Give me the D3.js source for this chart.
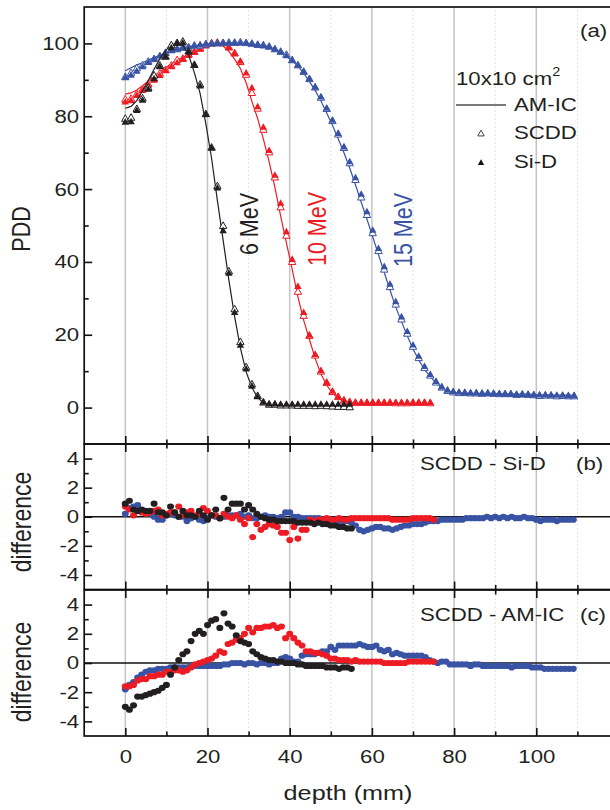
<!DOCTYPE html>
<html>
<head>
<meta charset="utf-8">
<script src="https://cdn.jsdelivr.net/npm/d3@7"></script>
<style>
  body { margin: 0; background: #fff; }
  svg { display: block; font-family: "Liberation Sans", Arial, sans-serif; }
</style>
</head>
<body>
<svg id="chart" width="610" height="810"></svg>
<script>
// ---- depth samples (mm) ----
const depthPDD = [0,1.4,2.8,4.2,5.6,7,8.4,9.8,11.2,12.6,14,15.4,16.8,18.2,19.6,21,22.4,23.8,25.2,26.6,
  28,29.4,30.8,32.2,33.6,35,36.4,37.8,39.2,40.6,42,43.4,44.8,46.2,47.6,49,50.4,51.8,53.2,54.6,
  56,57.4,58.8,60.2,61.6,63,64.4,65.8,67.2,68.6,70,71.4,72.8,74.2,75.6,77,78.4,79.8,81.2,82.6,
  84,85.4,86.8,88.2,89.6,91,92.4,93.8,95.2,96.6,98,99.4,100.8,102.2,103.6,105,106.4,107.8,109.2];
const depthDiff = [0,1,2,3,4,5,6,7,8,9,10,11,12,13,14,15,16,17,18,19,20,21,22,23,24,25,26,27,28,29,
  30,31,32,33,34,35,36,37,38,39,40,41,42,43,44,45,46,47,48,49,50,51,52,53,54,55,56,57,58,59,
  60,61,62,63,64,65,66,67,68,69,70,71,72,73,74,75,76,77,78,79,80,81,82,83,84,85,86,87,88,89,
  90,91,92,93,94,95,96,97,98,99,100,101,102,103,104,105,106,107,108,109];

// ---- PDD, 6 MeV ----
const pdd6SiD  = [78.3,78.4,81.5,84.3,87.3,90.2,93.5,96.2,98.7,100,100,97.6,94.0,88.2,80.4,71.2,60.2,48.5,36.8,26.0,
  17.0,10.5,5.8,2.9,1.4,0.9,0.9,0.8,0.8,0.8,0.8,0.8,0.8,0.8,0.8,0.8,0.8,0.8,0.8,0.8];
const pdd6SCDD = [79.2,79.5,81.9,84.8,87.7,91.1,93.8,96.3,99.4,100,100.4,97.7,94.0,88.6,80.5,71.3,60.7,49.8,37.3,26.9,
  17.9,11.0,6.3,3.1,1.3,0.7,0.7,0.5,0.5,0.5,0.4,0.4,0.4,0.3,0.4,0.3,0.2,0.1,0.1,0.0];
const pdd6AMIC = [82.2,82.7,84.3,87.0,89.9,92.9,95.8,98.0,99.6,100.0,99.6,96.9,92.0,86.3,77.9,68.4,56.9,46.0,35.0,25.0,
  16.4,9.8,5.5,2.8,1.2,0.6,0.5,0.5,0.5,0.5,0.5,0.5,0.5,0.5,0.5,0.5,0.5,0.4,0.4,0.4];

// ---- PDD, 10 MeV ----
const pdd10SiD  = [83.8,84.2,85.6,87.0,88.4,89.8,91.1,92.4,93.5,94.6,95.6,96.6,97.5,98.3,99.2,99.8,100,99.8,98.8,97.1,
  95.0,91.8,87.7,82.5,76.9,70.5,63.7,56.0,48.2,40.6,33.2,26.0,19.8,14.5,10.0,6.8,4.4,2.9,2.0,1.5,
  1.3,1.3,1.3,1.3,1.3,1.3,1.3,1.3,1.3,1.3,1.3,1.3,1.3,1.3];
const pdd10SCDD = [84.5,84.7,86.0,87.3,88.7,90.2,91.6,92.6,93.8,95.3,95.7,96.9,97.6,98.5,99.6,99.9,100.1,100.0,98.8,97.2,
  94.8,91.3,86.3,82.0,76.2,70.0,63.1,54.9,47.1,39.9,31.7,25.1,19.6,14.2,9.8,6.7,4.2,2.8,1.8,1.4,
  1.2,1.2,1.2,1.2,1.2,1.2,1.2,1.1,1.1,1.1,1.2,1.2,1.2,1.1];
const pdd10AMIC = [86.1,86.4,87.2,88.4,89.7,91.0,92.2,93.3,94.4,95.4,96.2,97.0,97.7,98.4,99.1,99.5,99.6,99.3,97.8,95.7,
  93.1,89.2,84.1,79.4,73.7,67.5,60.5,52.6,45.2,38.0,30.4,24.0,18.7,13.5,9.2,6.2,3.9,2.6,1.6,1.3,
  1.1,1.1,1.1,1.1,1.1,1.1,1.1,1.1,1.1,1.1,1.1,1.1,1.1,1.1];

// ---- PDD, 15 MeV ----
const pdd15SiD  = [90.5,91.2,92.3,93.5,94.7,95.6,96.5,97.2,97.9,98.3,98.7,99.0,99.3,99.5,99.7,99.8,99.9,100,100,100,
  100,100,99.9,99.6,99.3,99.0,98.3,97.6,96.5,95.3,93.9,92.2,90.2,87.9,85.2,82.1,78.8,75.2,71.5,67.4,
  63.0,58.5,53.7,48.6,43.6,38.6,33.8,29.0,24.8,20.8,17.1,14.0,11.2,9.0,7.1,5.6,4.7,4.3,4.1,4.0,
  3.9,3.9,3.8,3.8,3.7,3.7,3.6,3.6,3.5,3.5,3.5,3.4,3.4,3.4,3.3,3.3,3.3,3.2,3.2];
const pdd15SCDD = [90.7,91.8,93.1,93.9,94.9,95.6,96.3,97.3,98.1,98.3,98.7,98.7,99.3,99.3,99.6,99.9,99.9,100,100.1,100.1,
  100.2,100,99.8,99.5,99.4,99.0,98.3,97.6,96.8,95.3,93.9,92.1,90.1,87.8,85.0,81.9,78.6,74.9,71.2,67.0,
  62.4,57.6,52.8,47.8,42.9,37.8,33.0,28.2,24.1,20.2,16.6,13.5,10.8,8.7,6.8,5.4,4.5,4.1,3.9,3.9,
  3.8,3.8,3.7,3.8,3.7,3.6,3.6,3.6,3.4,3.5,3.4,3.3,3.1,3.2,3.2,3.0,3.1,3.0,3.0];
const pdd15AMIC = [92.5,93.3,94.1,94.7,95.4,96.1,96.7,97.5,98.2,98.6,98.9,99.1,99.4,99.6,99.8,100.0,100.1,100.1,100.2,100.1,
  100.2,100.1,99.8,99.6,99.4,99.1,98.3,97.6,96.5,95.2,93.8,91.8,89.5,87.1,84.2,80.9,77.5,73.8,70.0,65.8,
  61.2,56.4,51.7,46.9,42.0,37.1,32.3,27.6,23.6,19.7,16.1,13.1,10.4,8.5,6.7,5.3,4.5,4.2,4.0,4.0,
  3.9,3.9,3.9,3.9,3.9,3.8,3.8,3.8,3.7,3.7,3.7,3.6,3.5,3.5,3.5,3.4,3.4,3.4,3.4];

// ---- SCDD - Si-D ----
const diffB6  = [0.9,1.1,0.5,0.4,0.5,0.4,0.4,0.9,0.3,0.3,0.1,0.7,0.3,0.0,0.4,0.1,0.1,0.0,0.4,0.1,
  -0.2,0.1,0.5,-0.1,1.3,0.5,0.9,0.9,0.9,0.5,0.8,0.5,0.2,0.0,-0.1,-0.2,-0.2,-0.3,-0.3,-0.3,
  -0.3,-0.3,-0.4,-0.4,-0.4,-0.4,-0.5,-0.4,-0.5,-0.5,-0.6,-0.6,-0.7,-0.7,-0.8,-0.8];
const diffB10 = [0.7,0.5,0.1,0.4,0.3,0.2,0.3,0.4,0.5,0.1,0.2,0.3,0.3,0.7,0.1,0.3,0.4,0.1,0.2,0.6,
  0.4,0.1,0.1,-0.1,0.2,0.0,-0.1,0.1,-0.2,-0.5,-0.1,-1.4,-0.5,-0.9,-0.7,-0.5,-0.6,-0.7,-1.1,-1.1,
  -1.6,-0.7,-1.5,-0.9,-0.9,-0.2,-0.3,-0.2,-0.2,-0.1,-0.2,-0.2,-0.1,-0.2,-0.2,-0.1,-0.1,-0.1,-0.1,-0.1,
  -0.1,-0.1,-0.1,-0.1,-0.1,-0.2,-0.2,-0.2,-0.2,-0.2,-0.1,-0.1,-0.1,-0.1,-0.1,-0.2];
const diffB15 = [0.2,0.6,0.7,0.8,0.4,0.3,0.2,0.0,-0.2,-0.2,0.1,0.2,0.1,0.0,0.0,-0.3,-0.1,0.0,-0.2,-0.3,
  -0.1,0.1,0.0,-0.1,0.0,0.1,0.1,0.1,0.2,0.0,0.1,-0.1,-0.1,0.0,0.1,0.0,0.0,-0.1,0.0,0.3,
  0.3,0.0,0.0,-0.1,-0.1,-0.1,-0.1,-0.1,-0.2,-0.2,-0.2,-0.3,-0.3,-0.3,-0.3,-0.4,-0.6,-0.9,-1.0,-0.9,
  -0.8,-0.7,-0.7,-0.8,-0.8,-0.9,-0.8,-0.7,-0.6,-0.6,-0.5,-0.5,-0.5,-0.4,-0.3,-0.3,-0.3,-0.2,-0.2,-0.2,
  -0.2,-0.2,-0.2,-0.1,-0.1,-0.1,-0.1,-0.1,0.0,-0.1,0.0,-0.1,0.0,-0.1,0.0,-0.1,-0.1,0.0,-0.1,-0.1,
  -0.2,-0.3,-0.2,-0.2,-0.2,-0.3,-0.2,-0.2,-0.2,-0.2];

// ---- SCDD - AM-IC ----
const diffC6  = [-3.0,-3.2,-2.9,-2.3,-2.3,-2.2,-2.1,-2.0,-1.9,-1.7,-1.5,-0.8,-0.3,0.2,0.6,0.8,1.5,2.0,2.2,2.0,
  2.6,2.9,3.0,2.4,3.4,2.7,2.5,1.9,1.5,1.4,1.3,0.8,0.6,0.4,0.3,0.2,0.2,0.1,0.1,0.0,
  0.0,0.0,-0.1,-0.1,-0.2,-0.2,-0.2,-0.2,-0.2,-0.3,-0.3,-0.3,-0.4,-0.3,-0.3,-0.4];
const diffC10 = [-1.6,-1.6,-1.5,-1.2,-1.1,-1.1,-0.9,-0.9,-0.8,-0.8,-0.6,-0.6,-0.5,-0.5,-0.6,-0.5,-0.3,-0.1,0.0,0.1,
  0.2,0.3,0.5,0.8,0.7,1.3,1.4,1.6,1.7,2.0,2.4,2.1,2.4,2.4,2.5,2.5,2.6,2.4,2.5,1.7,
  2.0,1.7,1.4,1.2,0.8,0.8,0.7,0.7,0.6,0.5,0.3,0.3,0.2,0.2,0.2,0.1,0.2,0.1,0.1,0.1,
  0.1,0.1,0.1,0.0,0.0,0.0,0.0,0.0,0.0,0.1,0.1,0.1,0.1,0.1,0.1,0.1];
const diffC15 = [-1.8,-1.5,-1.3,-1.0,-0.8,-0.6,-0.5,-0.5,-0.4,-0.4,-0.4,-0.3,-0.3,-0.3,-0.3,-0.3,-0.2,-0.2,-0.2,-0.2,
  -0.2,-0.2,-0.2,-0.2,-0.1,-0.1,0.0,0.0,0.0,-0.1,0.0,0.0,-0.1,0.0,0.0,-0.1,0.0,0.0,0.3,0.4,
  0.3,0.1,0.1,0.5,0.6,0.6,0.6,0.7,0.8,0.8,1.1,0.9,1.2,1.2,1.2,1.2,1.2,1.3,1.2,1.1,
  1.1,1.2,0.9,0.8,0.9,0.6,0.7,0.6,0.5,0.5,0.5,0.5,0.5,0.4,0.2,0.1,0.0,0.1,0.1,-0.1,
  -0.1,-0.1,-0.1,-0.1,-0.2,-0.1,-0.1,-0.2,-0.2,-0.2,-0.2,-0.2,-0.2,-0.2,-0.3,-0.2,-0.2,-0.2,-0.2,-0.3,
  -0.3,-0.3,-0.4,-0.4,-0.4,-0.4,-0.4,-0.4,-0.4,-0.4];

// ---- axis ticks and labels ----
const xMajor = [0, 20, 40, 60, 80, 100];
const xMinor = [10, 30, 50, 70, 90, 110];
const pddMajor = [0, 20, 40, 60, 80, 100];
const pddMinor = [10, 30, 50, 70, 90];
const diffMajor = [-4, -2, 0, 2, 4];
const diffMinor = [-3, -1, 1, 3];
const energyLabels = ["6 MeV", "10 MeV", "15 MeV"];

// ---- drawing ----
const COL = { k: "#231f20", r: "#ed1c24", b: "#3953a4" };
const TXT = "#231f20";
const SX = 1.2;   // horizontal stretch of the lettering
const svg = d3.select("#chart");

const x = d3.scaleLinear().domain([-10, 120]).range([84.2, 618.5]);
const yA = d3.scaleLinear().domain([-10, 110]).range([444, 7]);
const yB = d3.scaleLinear().domain([-5, 5]).range([589.5, 444]);
const yC = d3.scaleLinear().domain([-5, 5]).range([736, 590]);

function label(px, py, str, o = {}) {
  const g = svg.append("g").attr("transform", `translate(${px},${py}) scale(${SX},1)`);
  const t = g.append("text")
    .attr("font-size", o.size || 18.5)
    .attr("text-anchor", o.anchor || "middle")
    .attr("dominant-baseline", "central")
    .attr("fill", o.fill || TXT)
    .text(str);
  if (o.rotate) t.attr("transform", `rotate(${o.rotate})`);
  return t;
}

// vertical grid in every panel
[[yA, 444, 7], [yB, 589.5, 444], [yC, 736, 590]].forEach(([ys, b, t]) => {
  svg.append("g").selectAll("line").data(xMajor).join("line")
    .attr("x1", d => x(d)).attr("x2", d => x(d)).attr("y1", b).attr("y2", t)
    .attr("stroke", "#c4c4c4").attr("stroke-width", 1.5);
  svg.append("g").selectAll("line").data(xMinor).join("line")
    .attr("x1", d => x(d)).attr("x2", d => x(d)).attr("y1", b).attr("y2", t)
    .attr("stroke", "#d6d6d6").attr("stroke-width", 1).attr("stroke-dasharray", "1.5,2.5");
});

// zero lines of the difference panels
[yB, yC].forEach(ys => {
  svg.append("line").attr("x1", x(-10)).attr("x2", 610).attr("y1", ys(0)).attr("y2", ys(0))
    .attr("stroke", "#111").attr("stroke-width", 1.6);
});

// triangle marker
function tri(w, h) {
  return `M0,${-h * 2 / 3}L${w / 2},${h / 3}L${-w / 2},${h / 3}Z`;
}
const triPath = tri(7.4, 6.6);

function pairs(depths, vals) { return vals.map((v, i) => [depths[i], v]); }

const pddSeries = [
  { c: COL.r, amic: pdd10AMIC, scdd: pdd10SCDD, sid: pdd10SiD },
  { c: COL.b, amic: pdd15AMIC, scdd: pdd15SCDD, sid: pdd15SiD },
  { c: COL.k, amic: pdd6AMIC, scdd: pdd6SCDD, sid: pdd6SiD }
];
const line = d3.line().x(d => x(d[0])).y(d => yA(d[1]));
pddSeries.forEach(s => {
  svg.append("path").datum(pairs(depthPDD, s.amic)).attr("d", line)
    .attr("fill", "none").attr("stroke", s.c).attr("stroke-width", 1.2);
  svg.append("g").selectAll("path").data(pairs(depthPDD, s.scdd)).join("path")
    .attr("d", triPath).attr("transform", d => `translate(${x(d[0])},${yA(d[1])})`)
    .attr("fill", "#fff").attr("stroke", s.c).attr("stroke-width", 1);
  svg.append("g").selectAll("path").data(pairs(depthPDD, s.sid)).join("path")
    .attr("d", triPath).attr("transform", d => `translate(${x(d[0])},${yA(d[1])})`)
    .attr("fill", s.c);
});

// difference dots
function dots(ys, vals, c) {
  svg.append("g").selectAll("ellipse").data(pairs(depthDiff, vals)).join("ellipse")
    .attr("cx", d => x(d[0])).attr("cy", d => ys(d[1]))
    .attr("rx", 3.5).attr("ry", 3.1).attr("fill", c);
}
dots(yB, diffB15, COL.b); dots(yB, diffB10, COL.r); dots(yB, diffB6, COL.k);
dots(yC, diffC15, COL.b); dots(yC, diffC10, COL.r); dots(yC, diffC6, COL.k);

// frames
[[444, 7], [589.5, 444], [736, 590]].forEach(([b, t]) => {
  svg.append("rect").attr("x", x(-10)).attr("y", t).attr("width", x(120) - x(-10)).attr("height", b - t)
    .attr("fill", "none").attr("stroke", "#111").attr("stroke-width", 1.7);
});

// axes
function styleAxis(g) {
  g.selectAll("path.domain").remove();
  g.selectAll("line").attr("stroke", "#111").attr("stroke-width", 1.6);
}
function yAxis(ys, major, minor) {
  const gM = svg.append("g").attr("transform", `translate(${x(-10)},0)`)
    .call(d3.axisLeft(ys).tickValues(major).tickSizeInner(-8).tickSizeOuter(0).tickPadding(5)
      .tickFormat(d => String(d)));
  styleAxis(gM);
  gM.selectAll("text").attr("font-size", 18.5).attr("fill", TXT).attr("font-family", null)
    .attr("x", -5 / SX).attr("transform", `scale(${SX},1)`);
  const gm = svg.append("g").attr("transform", `translate(${x(-10)},0)`)
    .call(d3.axisLeft(ys).tickValues(minor).tickSizeInner(-4.5).tickSizeOuter(0).tickFormat(""));
  styleAxis(gm);
}
yAxis(yA, pddMajor, pddMinor);
yAxis(yB, diffMajor, diffMinor);
yAxis(yC, diffMajor, diffMinor);

function xAxis(yPos, up, withLabels) {
  const mk = up ? d3.axisBottom : d3.axisTop;
  const gM = svg.append("g").attr("transform", `translate(0,${yPos})`)
    .call(mk(x).tickValues(xMajor).tickSizeInner(-8).tickSizeOuter(0).tickPadding(12)
      .tickFormat(withLabels ? (d => String(d)) : ""));
  styleAxis(gM);
  if (withLabels) {
    gM.selectAll("text").attr("font-size", 18.5).attr("fill", TXT).attr("font-family", null)
      .attr("transform", `scale(${SX},1)`).attr("dy", "0.71em").attr("y", 14);
  }
  const gm = svg.append("g").attr("transform", `translate(0,${yPos})`)
    .call(mk(x).tickValues(xMinor).tickSizeInner(-4.5).tickSizeOuter(0).tickFormat(""));
  styleAxis(gm);
}
xAxis(444, true, false);
xAxis(444, false, false);
xAxis(589.5, true, false);
xAxis(590, false, false);
xAxis(736, true, true);

// axis titles
label(21, 229, "PDD", { size: 21.5, rotate: -90 });
label(21.5, 522, "difference", { size: 23, rotate: -90 });
label(21.5, 672, "difference", { size: 23, rotate: -90 });
label(348, 793, "depth (mm)", { size: 21 });

// energy labels on the fall-off
label(249, 224, energyLabels[0], { size: 21.5, rotate: -90, fill: COL.k });
label(317, 229, energyLabels[1], { size: 21.5, rotate: -90, fill: COL.r });
label(403, 230, energyLabels[2], { size: 21.5, rotate: -90, fill: COL.b });

// panel tags
label(580, 31, "(a)", { anchor: "start" });
label(420, 464, "SCDD - Si-D", { anchor: "start" });
label(576, 464, "(b)", { anchor: "start" });
label(420, 615, "SCDD - AM-IC", { anchor: "start" });
label(580, 615, "(c)", { anchor: "start" });

// legend
const lt = label(456, 79, "10x10 cm", { anchor: "start" });
lt.append("tspan").attr("font-size", 12).attr("dy", -8).text("2");
svg.append("line").attr("x1", 456).attr("x2", 506).attr("y1", 105).attr("y2", 105)
  .attr("stroke", "#7a7a7a").attr("stroke-width", 2);
label(514, 105, "AM-IC", { anchor: "start" });
svg.append("path").attr("d", tri(6.4, 5.8)).attr("transform", "translate(481,134)")
  .attr("fill", "#fff").attr("stroke", "#444").attr("stroke-width", 1);
label(514, 133, "SCDD", { anchor: "start" });
svg.append("path").attr("d", tri(6.4, 5.8)).attr("transform", "translate(481,163)")
  .attr("fill", "#111");
label(514, 162, "Si-D", { anchor: "start" });
</script>
</body>
</html>
